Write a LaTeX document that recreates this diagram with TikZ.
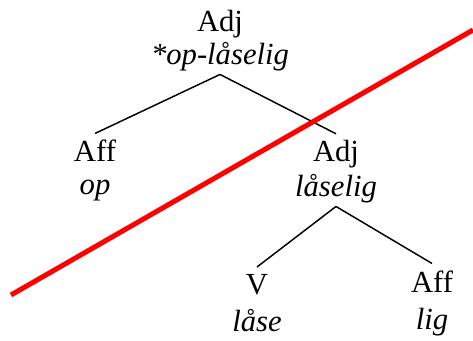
\documentclass[tikz,border=0pt]{standalone}
\usepackage{fontspec}
\setmainfont{Liberation Serif}
\usepackage{xcolor}

\begin{document}
\begin{tikzpicture}[x=0.75pt,y=0.75pt,yscale=-1,xscale=1,
  cat/.style={anchor=base,inner xsep=0pt,inner ysep=5pt,font=\fontsize{23}{27}\selectfont},
  word/.style={anchor=base,inner xsep=0pt,inner ysep=2pt,font=\fontsize{23}{27}\selectfont\itshape},
  branch/.style={line width=1.1pt},
  cut/.style={draw=red,line width=3.75pt}]
\useasboundingbox (0,0) rectangle (473,341);
% top
\node [cat] (adj) at (220,32) {Adj};
\node [word] (adjw) at (220,65) {*op-låselig};
% second row
\node [cat] (affl) at (95,162) {Aff};
\node [word] (afflw) at (95,195) {op};
\node [cat] (adjr) at (336,162) {Adj};
\node [word] (adjrw) at (336,197) {låselig};
% bottom row
\node [cat] (verb) at (257,294) {V};
\node [word] (verbw) at (257,331) {låse};
\node [cat] (affr) at (432,292) {Aff};
\node [word] (affrw) at (432,329) {lig};
% branches
\draw [branch] (adjw.south) -- (affl.north);
\draw [branch] (adjw.south) -- (adjr.north);
\draw [branch] (adjrw.south) -- (verb.north);
\draw [branch] (adjrw.south) -- (affr.north);
% strike
\coordinate (cutA) at (11,295);
\coordinate (cutB) at (473,30);
\draw [cut] (cutA) -- (cutB);
\end{tikzpicture}
\end{document}
